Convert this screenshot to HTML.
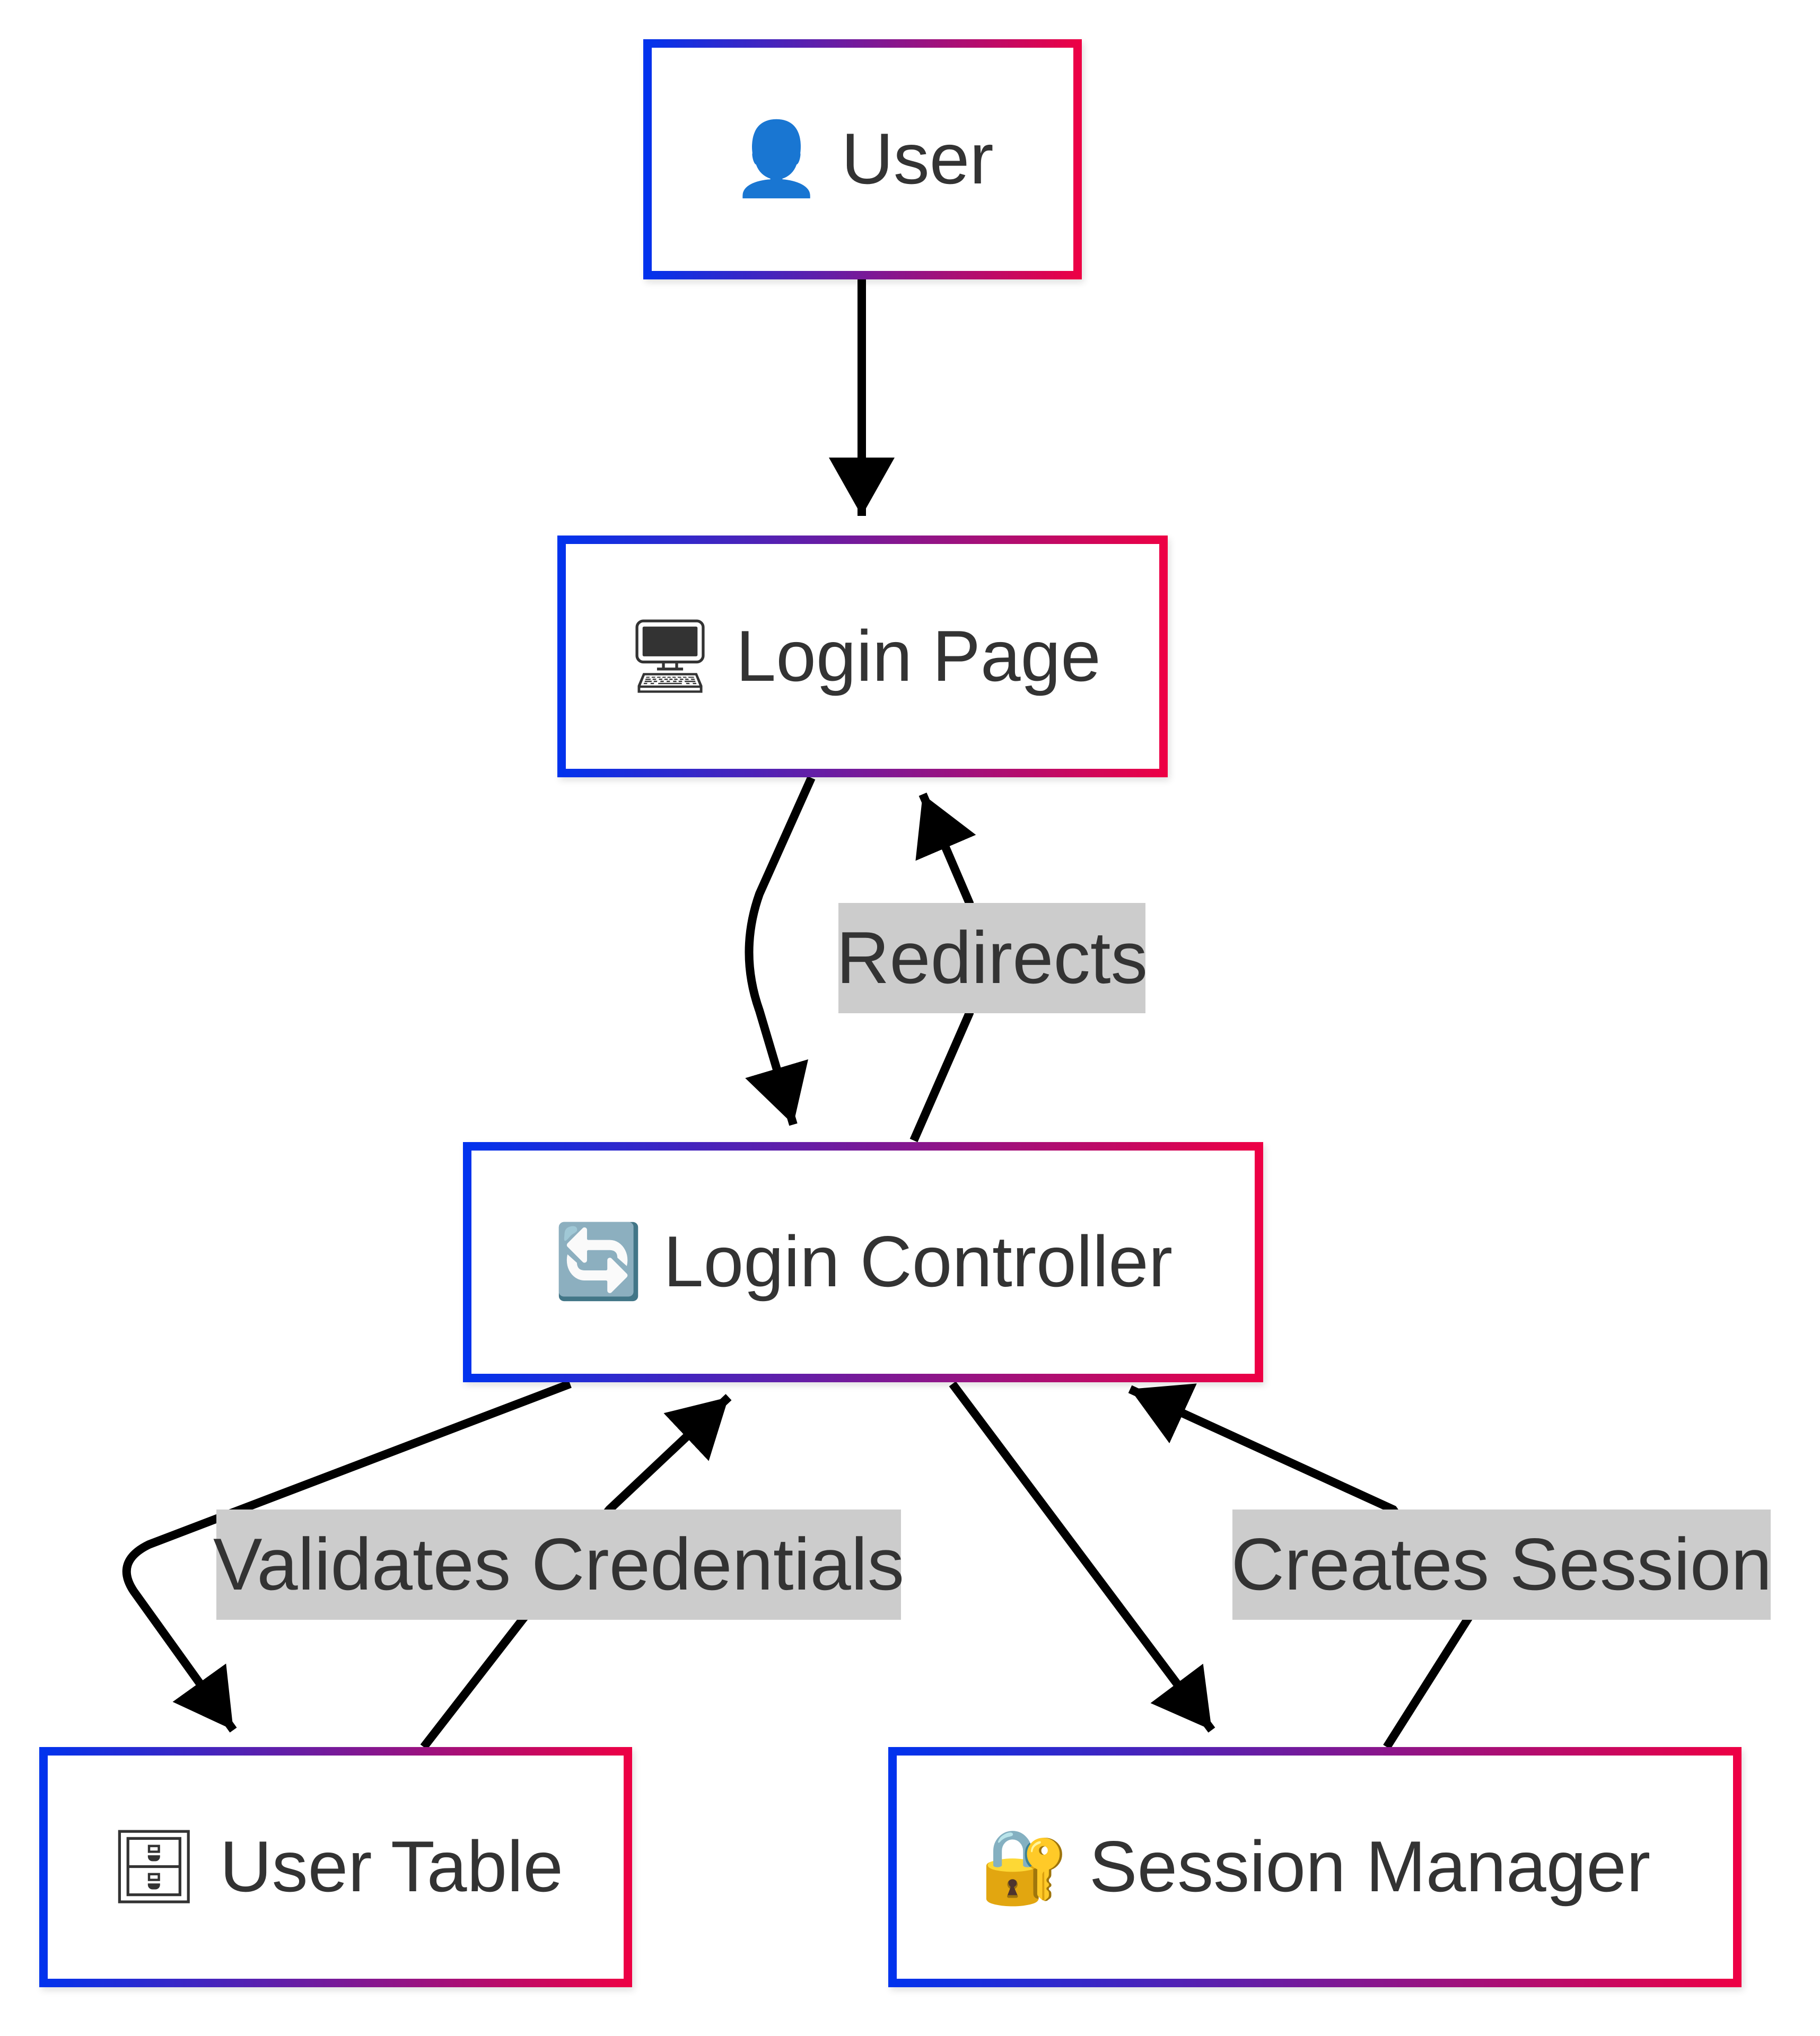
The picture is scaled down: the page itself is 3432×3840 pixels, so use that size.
<!DOCTYPE html>
<html><head><meta charset="utf-8"><style>
html,body{margin:0;padding:0;background:#fff;}
body{width:3432px;height:3840px;position:relative;overflow:hidden;font-family:"Liberation Sans","DejaVu Sans",sans-serif;}
.box{position:absolute;box-sizing:border-box;padding:16px;background:linear-gradient(90deg,#0033ee,#ee0044);box-shadow:4px 6px 12px rgba(0,0,0,0.12);}
.box .in{width:100%;height:100%;background:#fff;display:flex;align-items:center;justify-content:center;font-size:136px;color:#333;white-space:nowrap;}
.lbl{position:absolute;background:#cccccc;color:#333;font-size:139px;display:flex;align-items:center;justify-content:center;white-space:nowrap;}
svg{position:absolute;left:0;top:0;}
</style></head><body>
<svg width="3432" height="3840" viewBox="0 0 3432 3840">
<defs><marker id="a" markerUnits="userSpaceOnUse" markerWidth="120" markerHeight="124" refX="110" refY="62" orient="auto"><path d="M0,0 L110,62 L0,124 Z" fill="#000"/></marker></defs>
<g stroke="#000" stroke-width="16" fill="none">
<path d="M1625,523 L1625,973" marker-end="url(#a)"/>
<path d="M1530,1467 L1432,1686 Q1393,1796 1432,1906 L1496,2121" marker-end="url(#a)"/>
<path d="M1723,2151 L1828,1911 L1828,1703 L1740,1498" marker-end="url(#a)"/>
<path d="M1075,2610 L281,2913 Q215,2945 252,3001 L440,3263" marker-end="url(#a)"/>
<path d="M799,3295 L985,3055 L1149,2847 L1374,2635" marker-end="url(#a)"/>
<path d="M1796,2610 L2285,3263" marker-end="url(#a)"/>
<path d="M2615,3295 L2770,3050 L2627,2847 L2131,2620" marker-end="url(#a)"/>
</g></svg>
<div class="box" style="left:1213px;top:74px;width:827px;height:453px"><div class="in">👤 User</div></div>
<div class="box" style="left:1051px;top:1010px;width:1151px;height:456px"><div class="in">🖥 Login Page</div></div>
<div class="box" style="left:873px;top:2154px;width:1509px;height:453px"><div class="in">🔄 Login Controller</div></div>
<div class="box" style="left:74px;top:3295px;width:1118px;height:453px"><div class="in">🗄 User Table</div></div>
<div class="box" style="left:1675px;top:3295px;width:1609px;height:453px"><div class="in">🔐 Session Manager</div></div>
<div class="lbl" style="left:1581px;top:1703px;width:579px;height:208px">Redirects</div>
<div class="lbl" style="left:408px;top:2847px;width:1291px;height:208px">Validates Credentials</div>
<div class="lbl" style="left:2324px;top:2847px;width:1015px;height:208px">Creates Session</div>
</body></html>
